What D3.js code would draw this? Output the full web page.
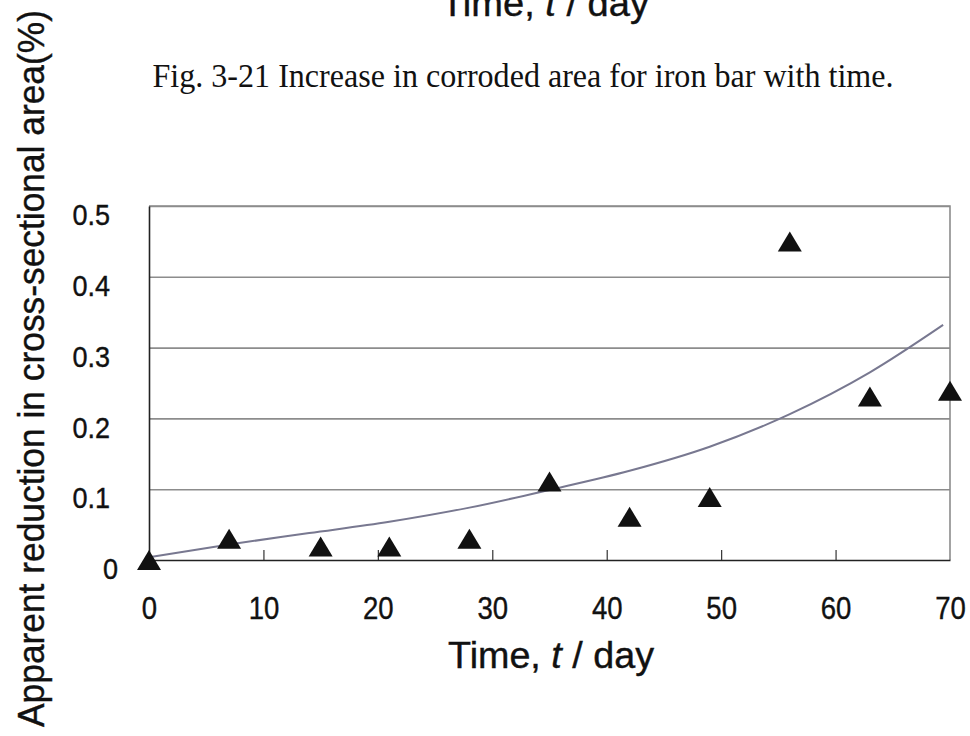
<!DOCTYPE html>
<html>
<head>
<meta charset="utf-8">
<script src="https://cdn.jsdelivr.net/npm/d3@7"></script>
<style>
  body { margin: 0; background: #fff; }
  svg { display: block; }
</style>
</head>
<body>
<svg id="chart" width="970" height="736"></svg>
<script>
// Measured corrosion: time (days) and apparent reduction in cross-section (%)
const days = [0, 7, 15, 21, 28, 35, 42, 49, 56, 63, 70];
const reduction = [0.0, 0.030, 0.019, 0.019, 0.030, 0.111, 0.061, 0.089, 0.450, 0.231, 0.239];

// Trend curve through the measurements
const trendDays = [0, 7, 14, 21, 28, 35, 42, 49, 56, 63, 69.4];
const trendValues = [0.004, 0.022, 0.038, 0.054, 0.074, 0.099, 0.126, 0.160, 0.206, 0.265, 0.332];

// Axis ticks
const xTicks = [0, 10, 20, 30, 40, 50, 60, 70];
const yTicks = [0, 0.1, 0.2, 0.3, 0.4, 0.5];
const yTickLabels = ["0", "0.1", "0.2", "0.3", "0.4", "0.5"];

// Texts
const caption = "Fig. 3-21 Increase in corroded area for iron bar with time.";
const yTitle = "Apparent reduction in cross-sectional area(%)";
const xTitleParts = [["Time, ", "normal"], ["t", "italic"], [" / day", "normal"]];

const svg = d3.select("#chart");
const sans = "'Liberation Sans', Arial, sans-serif";
const serif = "'Liberation Serif', 'Times New Roman', serif";
const ink = "#111";

// Narrow a text horizontally to a share of its natural width
function condense(sel, factor) {
  sel.each(function () {
    const w = this.getComputedTextLength();
    d3.select(this).attr("textLength", w * factor).attr("lengthAdjust", "spacingAndGlyphs");
  });
}

svg.append("rect").attr("width", 970).attr("height", 736).attr("fill", "#fff");

const plot = { left: 149, right: 950, top: 206, bottom: 560 };
const x = d3.scaleLinear().domain([0, 70]).range([plot.left, plot.right]);
const y = d3.scaleLinear().domain([0, 0.5]).range([plot.bottom, plot.top]);

// Horizontal gridlines
svg.append("g")
  .attr("transform", `translate(${plot.left},0)`)
  .call(d3.axisLeft(y).tickValues(yTicks.slice(1)).tickSize(-(plot.right - plot.left)).tickFormat(""))
  .call(g => g.select(".domain").remove())
  .call(g => g.selectAll("line").attr("stroke", "#8c8c8c").attr("stroke-width", 1.6));

// Plot frame: grey top and right edges
svg.append("path")
  .attr("d", `M${plot.left},${plot.top}H${plot.right}V${plot.bottom}`)
  .attr("fill", "none").attr("stroke", "#8c8c8c").attr("stroke-width", 1.6);

// X axis with inward ticks
const xAxis = svg.append("g")
  .attr("transform", `translate(0,${plot.bottom})`)
  .call(d3.axisBottom(x).tickValues(xTicks).tickSizeInner(-10).tickSizeOuter(0).tickPadding(36).tickFormat(d3.format("d")));
xAxis.select(".domain").attr("stroke", "#222").attr("stroke-width", 1.6);
xAxis.selectAll(".tick line").attr("stroke", "#333").attr("stroke-width", 1.2)
  .filter(d => d === 0 || d === 70).remove();
xAxis.selectAll("text")
  .attr("font-family", sans).attr("font-size", 32).attr("fill", ink)
  .attr("stroke", ink).attr("stroke-width", 0.4)
  .call(condense, 0.86);

// Y axis
const yAxis = svg.append("g")
  .attr("transform", `translate(${plot.left},0)`)
  .call(d3.axisLeft(y).tickValues(yTicks).tickSize(0).tickPadding(39)
    .tickFormat((d, i) => yTickLabels[i]));
yAxis.select(".domain").attr("stroke", "#222").attr("stroke-width", 1.6);
yAxis.selectAll("text")
  .attr("font-family", sans).attr("font-size", 30).attr("fill", ink)
  .attr("stroke", ink).attr("stroke-width", 0.4)
  .attr("dy", "0.62em")
  .attr("dx", d => d === 0 ? 8 : 0)
  .call(condense, 0.9);

// Trend curve
const trend = trendDays.map((d, i) => [d, trendValues[i]]);
svg.append("path")
  .datum(trend)
  .attr("fill", "none")
  .attr("stroke", "#787890")
  .attr("stroke-width", 2)
  .attr("d", d3.line().x(d => x(d[0])).y(d => y(d[1])).curve(d3.curveMonotoneX));

// Triangle markers
const triW = 24, triH = 20;
const tri = (cx, cy) => `M${cx},${cy - triH / 2}L${cx + triW / 2},${cy + triH / 2}L${cx - triW / 2},${cy + triH / 2}Z`;
svg.append("g").selectAll("path")
  .data(days.map((d, i) => [d, reduction[i]]))
  .join("path")
  .attr("d", d => tri(x(d[0]), y(d[1])))
  .attr("fill", ink);

// X axis title
function axisTitle(cx, baseline, width) {
  const t = svg.append("text")
    .attr("x", cx).attr("y", baseline)
    .attr("text-anchor", "middle")
    .attr("font-family", sans).attr("font-size", 37).attr("fill", ink)
    .attr("stroke", ink).attr("stroke-width", 0.4)
    .attr("textLength", width).attr("lengthAdjust", "spacingAndGlyphs");
  xTitleParts.forEach(([s, st]) => t.append("tspan").attr("font-style", st).text(s));
}
axisTitle(551, 668, 206);

// Title of the neighbouring figure above, cut by the page edge
axisTitle(545, 16, 208);

// Caption
svg.append("text")
  .attr("x", 523).attr("y", 87)
  .attr("text-anchor", "middle")
  .attr("font-family", serif).attr("font-size", 33).attr("fill", ink)
  .attr("textLength", 741).attr("lengthAdjust", "spacingAndGlyphs")
  .text(caption);

// Y axis title
svg.append("text")
  .attr("transform", "translate(44,727) rotate(-90)")
  .attr("text-anchor", "start")
  .attr("font-family", sans).attr("font-size", 37).attr("fill", ink)
  .attr("stroke", ink).attr("stroke-width", 0.4)
  .attr("textLength", 717).attr("lengthAdjust", "spacingAndGlyphs")
  .text(yTitle);
</script>
</body>
</html>
